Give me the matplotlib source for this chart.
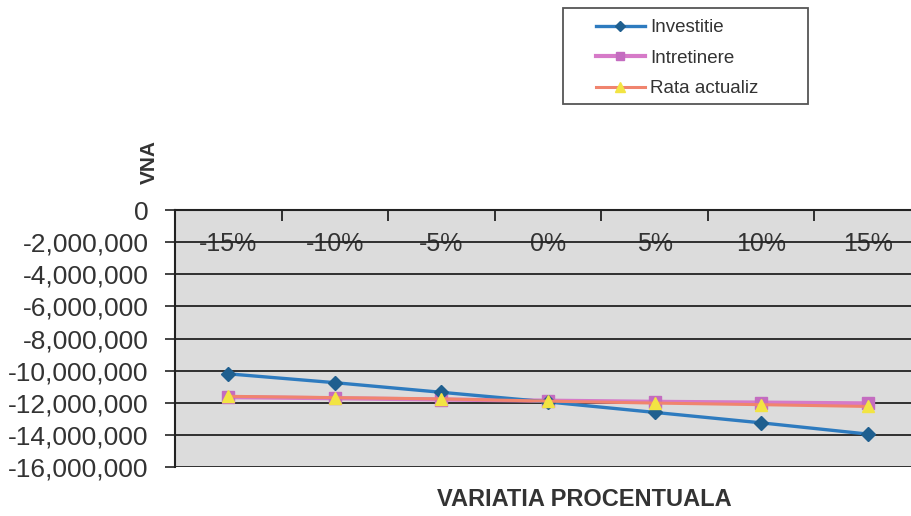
import matplotlib
matplotlib.use("Agg")
import matplotlib.pyplot as plt
from matplotlib.ticker import FuncFormatter, FixedLocator
from matplotlib.patches import Rectangle

plt.rcParams['font.family'] = ['Liberation Sans', 'DejaVu Sans']

categories = ["-15%", "-10%", "-5%", "0%", "5%", "10%", "15%"]
investitie = [-10200000, -10750000, -11350000, -11950000, -12600000, -13250000, -13950000]
intretinere = [-11650000, -11720000, -11800000, -11870000, -11940000, -11990000, -12040000]
rata_actualiz = [-11600000, -11680000, -11760000, -11900000, -12020000, -12120000, -12230000]
y_ticks = [0, -2000000, -4000000, -6000000, -8000000, -10000000, -12000000, -14000000, -16000000]

W, H = 912, 516
fig = plt.figure(figsize=(W / 100, H / 100), dpi=100)
fig.patch.set_facecolor("white")
left, right, top, bottom = 175, 921, 210, 467
ax = fig.add_axes([left / W, (H - bottom) / H, (right - left) / W, (bottom - top) / H])
ax.set_facecolor("#dcdcdc")

x = list(range(len(categories)))
l1, = ax.plot(x, investitie, color="#2e7bbf", lw=2.4, marker="D", ms=7,
              mfc="#1f5f8f", mec="#1f5f8f", label="Investitie", zorder=4)
l2, = ax.plot(x, intretinere, color="#d67ac8", lw=3, marker="s", ms=8,
              mfc="#c46cc0", mec="#c46cc0", label="Intretinere", zorder=3)
l3, = ax.plot(x, rata_actualiz, color="#f0846e", lw=2.2, marker="^", ms=9,
              mfc="#f2e443", mec="#f2e443", label="Rata actualiz", zorder=5)

ax.set_xlim(-0.5, len(categories) - 0.5)
ax.set_ylim(-16000000, 0)
ax.set_yticks(y_ticks)
ax.yaxis.set_major_formatter(FuncFormatter(lambda v, p: f"{int(v):,}"))
ax.grid(axis="y", color="#222222", lw=1.3)
ax.set_axisbelow(True)

for s in ["top", "right"]:
    ax.spines[s].set_visible(False)
ax.spines["bottom"].set_position(("data", 0))
ax.spines["bottom"].set_color("#222222")
ax.spines["bottom"].set_linewidth(1.5)
ax.spines["left"].set_color("#222222")
ax.spines["left"].set_linewidth(1.5)

ax.set_xticks(x)
ax.set_xticklabels(categories, fontsize=18, color="#333333")
ax.tick_params(axis="x", which="major", length=0, pad=16)
ax.xaxis.set_minor_locator(FixedLocator([i + 0.5 for i in range(len(categories) - 1)]))
ax.tick_params(axis="x", which="minor", direction="out", length=8, width=1.3, color="#222222")
ax.tick_params(axis="y", which="major", direction="out", length=7, width=1.2,
               labelsize=19, labelcolor="#333333", color="#222222", pad=12)

fig.text(584 / W, 1 - 500 / H, "VARIATIA PROCENTUALA", ha="center", va="center",
         fontsize=17, fontweight="bold", color="#333333")
fig.text(149 / W, 1 - 162 / H, "VNA", ha="center", va="center", rotation=90,
         fontsize=15, fontweight="bold", color="#333333")

# legend box
fig.patches.append(Rectangle((563 / W, 1 - 104 / H), (808 - 563) / W, (104 - 8) / H,
                             transform=fig.transFigure, facecolor="white",
                             edgecolor="#555555", lw=1.3, zorder=1))
leg = fig.legend(handles=[l1, l2, l3], loc="upper left",
                 bbox_to_anchor=(596 / W, 1 - 19 / H), fontsize=13.5,
                 frameon=False, handlelength=2.6, borderpad=0, labelspacing=0.72,
                 handletextpad=0.3, borderaxespad=0, markerscale=0.8)
leg.set_zorder(2)
for t in leg.get_texts():
    t.set_color("#333333")

fig.savefig("out.png", dpi=100)
